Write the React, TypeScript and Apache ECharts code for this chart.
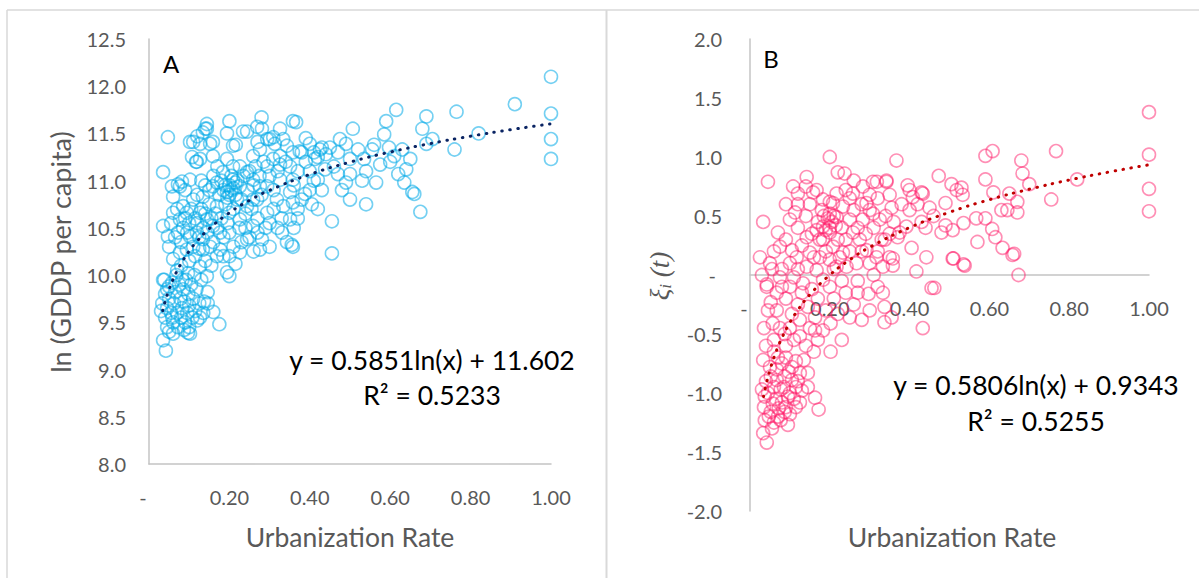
import React, { useEffect, useRef } from "react";
import * as echarts from "echarts";

// ---------- data ----------
const xAxisTitle = "Urbanization Rate";
const yTitleA = "ln (GDDP per capita)";
const panelLabels = ["A", "B"];
const equationA = ["y = 0.5851ln(x) + 11.602", "R² = 0.5233"];
const equationB = ["y = 0.5806ln(x) + 0.9343", "R² = 0.5255"];

const gdpPoints: number[][] = [
  [0.035,9.31],[0.042,9.2],[0.03,9.62],[0.033,9.7],[0.04,9.55],[0.045,9.45],[0.05,9.4],[0.038,9.95],[0.045,9.65],[0.05,9.75],
  [0.055,9.6],[0.06,9.5],[0.062,9.7],[0.065,9.82],[0.07,9.6],[0.072,9.45],[0.075,9.9],[0.078,9.75],[0.08,9.55],[0.082,9.65],
  [0.085,9.85],[0.088,9.72],[0.09,9.5],[0.092,9.95],[0.095,9.6],[0.098,9.8],[0.1,9.68],[0.1,9.45],[0.105,9.9],[0.108,9.55],
  [0.11,9.75],[0.115,9.62],[0.118,9.85],[0.12,9.52],[0.125,9.7],[0.13,9.95],[0.135,9.6],[0.146,9.82],[0.146,9.7],[0.16,9.61],
  [0.175,9.48],[0.058,9.92],[0.068,10.0],[0.083,9.95],[0.097,10.02],[0.113,10.0],[0.06,9.38],[0.097,9.39],[0.087,9.42],[0.102,9.38],
  [0.127,9.55],[0.137,9.72],[0.05,9.88],[0.04,9.8],[0.058,9.55],[0.035,9.95],[0.045,9.85],
  [0.035,10.52],[0.047,10.41],[0.06,10.66],[0.077,10.59],[0.072,10.45],[0.085,10.73],[0.134,10.83],[0.159,10.94],[0.169,10.73],[0.177,10.45],
  [0.169,10.2],[0.194,10.03],[0.2,9.99],[0.134,10.27],[0.094,10.27],[0.127,10.09],[0.144,9.99],[0.06,10.17],[0.077,10.24],[0.035,11.09],
  [0.047,11.46],[0.102,11.01],[0.119,11.2],[0.127,11.23],[0.11,11.41],[0.144,11.55],[0.134,11.51],[0.159,11.41],[0.159,11.26],[0.209,11.37],
  [0.2,11.63],[0.234,11.52],[0.244,11.52],[0.269,11.57],[0.294,11.44],[0.309,11.46],[0.334,11.44],[0.358,11.63],[0.259,11.26],[0.276,11.33],
  [0.226,11.15],[0.244,11.09],[0.259,11.01],[0.294,11.15],[0.309,11.23],[0.326,11.26],[0.343,11.37],[0.358,11.3],[0.351,11.15],[0.326,11.01],
  [0.358,11.01],[0.294,10.94],[0.269,10.8],[0.294,10.66],[0.318,10.8],[0.334,10.73],[0.351,10.88],[0.358,10.77],[0.259,10.52],[0.244,10.38],
  [0.276,10.27],[0.226,10.24],[0.2,10.66],[0.219,10.8],[0.194,10.88],[0.209,11.01],[0.184,11.09],[0.169,10.98],[0.159,10.52],[0.144,10.59],
  [0.127,10.66],[0.11,10.8],[0.094,10.66],[0.077,10.94],[0.102,10.41],[0.119,10.45],[0.134,10.38],[0.152,10.3],[0.177,10.27],[0.2,10.45],
  [0.226,10.59],[0.244,10.73],[0.259,10.8],[0.276,10.94],[0.226,10.94],[0.194,11.23],[0.209,11.15],[0.343,10.35],[0.358,10.3],[0.331,10.45],
  [0.351,10.59],[0.281,10.38],[0.06,10.83],[0.057,10.94],
  [0.05,10.3],[0.055,10.55],[0.065,10.4],[0.07,10.7],[0.08,10.35],[0.085,10.5],[0.09,10.6],[0.095,10.45],[0.1,10.55],[0.105,10.7],
  [0.11,10.3],[0.115,10.6],[0.12,10.55],[0.125,10.4],[0.13,10.7],[0.135,10.5],[0.14,10.65],[0.145,10.45],[0.15,10.75],[0.155,10.6],
  [0.16,10.35],[0.165,10.65],[0.17,10.5],[0.175,10.85],[0.18,10.6],[0.185,10.4],[0.19,10.75],[0.195,10.55],[0.2,10.85],[0.2,10.95],
  [0.205,10.9],[0.21,10.7],[0.215,10.85],[0.22,11.0],[0.225,10.5],[0.23,10.8],[0.235,11.05],[0.24,10.65],[0.245,10.9],[0.25,11.1],
  [0.255,10.7],[0.26,10.95],[0.265,11.15],[0.27,10.6],[0.275,11.05],[0.28,10.85],[0.285,11.2],[0.29,10.5],[0.3,11.05],[0.31,10.9],
  [0.32,11.1],[0.33,10.6],[0.34,11.2],[0.18,11.0],[0.19,10.95],[0.21,10.92],[0.195,10.82],[0.205,11.05],[0.215,10.98],[0.185,10.9],
  [0.17,11.15],[0.16,11.05],[0.15,10.9],[0.14,10.95],[0.13,11.0],[0.12,10.85],[0.09,10.9],[0.1,10.15],[0.115,10.2],[0.14,10.15],
  [0.155,10.1],[0.185,10.2],[0.21,10.3],[0.23,10.35],[0.25,10.4],[0.26,10.25],[0.2,10.2],[0.215,10.12],[0.08,10.1],[0.07,10.05],
  [0.125,10.28],[0.24,10.5],[0.27,10.45],[0.3,10.55],[0.31,10.7],[0.32,10.5],[0.3,10.3],
  [0.38,11.3],[0.39,11.2],[0.4,11.1],[0.41,11.0],[0.42,11.25],[0.43,11.35],[0.44,11.28],[0.4,10.9],[0.38,10.8],[0.42,10.7],
  [0.37,10.6],[0.36,10.5],[0.355,10.32],[0.455,10.23],[0.43,10.9],[0.42,11.01],[0.438,11.12],[0.413,11.23],[0.425,11.33],[0.4,11.39],
  [0.375,11.31],[0.366,11.62],[0.405,10.75],[0.388,10.86],[0.37,10.7],[0.326,11.17],[0.313,11.39],[0.3,11.44],[0.326,11.55],[0.281,11.55],
  [0.27,11.41],[0.39,11.45],[0.41,11.3],[0.37,11.1],[0.36,10.95],
  [0.455,10.57],[0.47,11.07],[0.475,11.44],[0.49,11.39],[0.5,11.23],[0.507,11.55],[0.49,10.98],[0.5,11.07],[0.52,11.33],[0.535,11.23],
  [0.54,10.75],[0.555,11.33],[0.565,10.98],[0.575,11.17],[0.585,11.49],[0.59,11.63],[0.597,11.35],[0.615,11.75],[0.62,11.07],[0.63,11.33],
  [0.635,10.98],[0.64,11.12],[0.65,11.23],[0.655,10.88],[0.66,10.86],[0.675,10.67],[0.68,11.55],[0.69,11.68],[0.69,11.39],[0.705,11.44],
  [0.76,11.33],[0.765,11.73],[0.82,11.5],[0.91,11.81],[1.0,12.1],[1.0,11.71],[1.0,11.44],[1.0,11.23],[0.6,11.2],[0.61,11.26],
  [0.54,11.1],[0.53,11.0],[0.56,11.38],[0.5,10.8],[0.46,11.15],[0.47,11.3],[0.48,10.9],[0.45,11.35],
  [0.102,11.41],[0.12,11.47],[0.127,11.39],[0.14,11.55],[0.144,11.6],[0.107,11.25],[0.117,11.2],[0.152,11.39],[0.194,11.5],[0.216,11.38],
  [0.28,11.67],[0.072,10.96],[0.082,10.99]
];

const xiPoints: number[][] = [
  [0.045,0.79],[0.033,0.45],[0.07,0.36],[0.1,0.47],[0.113,0.53],[0.075,0.24],[0.105,0.21],[0.108,0.75],[0.12,0.69],[0.142,0.83],
  [0.158,0.7],[0.167,0.72],[0.2,1.0],[0.22,0.87],[0.237,0.86],[0.217,0.69],[0.183,0.64],[0.208,0.61],[0.233,0.58],[0.258,0.69],
  [0.283,0.75],[0.308,0.79],[0.318,0.79],[0.342,0.79],[0.292,0.61],[0.308,0.52],[0.325,0.47],[0.283,0.47],[0.25,0.47],[0.217,0.49],
  [0.2,0.52],[0.183,0.41],[0.167,0.38],[0.142,0.32],[0.183,0.3],[0.2,0.36],[0.208,0.24],[0.233,0.19],[0.258,0.36],[0.275,0.3],
  [0.292,0.21],[0.317,0.15],[0.333,0.07],[0.267,0.1],[0.242,0.07],[0.217,0.07],[0.2,0.13],[0.175,0.15],[0.15,0.19],[0.117,0.15],
  [0.1,0.1],[0.142,0.07],[0.167,0.04],[0.075,-0.02],[0.042,-0.1],[0.067,-0.15],[0.1,-0.1],[0.133,-0.07],[0.183,-0.04],
  [1.0,1.38],[1.0,1.02],[1.0,0.73],[1.0,0.54],[0.82,0.81],[0.767,1.05],[0.755,0.64],[0.68,0.97],[0.683,0.86],[0.7,0.77],
  [0.67,0.62],[0.67,0.53],[0.65,0.69],[0.63,0.55],[0.645,0.55],[0.608,1.05],[0.59,1.01],[0.59,0.81],[0.61,0.7],[0.567,0.48],
  [0.59,0.48],[0.607,0.39],[0.615,0.32],[0.633,0.23],[0.658,0.17],[0.662,0.18],[0.673,0.0],[0.57,0.28],[0.535,0.44],[0.535,0.09],
  [0.508,0.38],[0.51,0.14],[0.48,0.36],[0.49,0.42],[0.53,0.74],[0.533,0.68],[0.505,0.77],[0.518,0.72],[0.49,0.61],[0.473,0.84],
  [0.45,0.57],[0.433,0.69],[0.43,0.7],[0.408,0.66],[0.4,0.72],[0.395,0.76],[0.35,0.68],[0.355,0.57],[0.342,0.8],[0.367,0.97],
  [0.392,0.41],[0.375,0.36],[0.37,0.32],[0.405,0.23],[0.43,0.45],[0.442,0.15],[0.417,0.03],[0.358,0.14],[0.358,0.08],[0.35,0.15],
  [0.455,-0.11],[0.333,-0.15],[0.338,0.3],[0.433,-0.45],[0.508,0.14],[0.538,0.08],
  [0.042,-1.42],[0.033,-1.34],[0.037,-1.23],[0.047,-1.2],[0.077,-1.23],[0.095,-1.27],[0.087,-1.16],[0.115,-1.12],[0.172,-1.14],[0.163,-1.04],
  [0.145,-0.95],[0.145,-0.83],[0.135,-0.72],[0.115,-0.73],[0.033,-0.72],[0.03,-0.97],[0.037,-1.03],[0.052,-0.86],[0.067,-0.89],[0.087,-0.86],
  [0.105,-0.89],[0.077,-0.97],[0.095,-1.03],[0.057,-1.09],[0.072,-1.13],[0.052,-1.16],[0.105,-0.78],[0.125,-0.83],[0.115,-0.95],[0.097,-0.82],
  [0.067,-0.8],[0.04,-0.9],[0.045,-1.0],[0.06,-0.95],[0.065,-1.05],[0.08,-1.08],[0.085,-0.95],[0.09,-1.12],[0.1,-1.0],[0.11,-1.05],
  [0.12,-0.9],[0.06,-1.25],[0.07,-1.2],[0.05,-0.78],[0.08,-0.75],[0.1,-1.18],[0.125,-1.08],[0.035,-1.12],[0.055,-1.3],[0.13,-0.98],
  [0.07,-0.7],
  [0.202,-0.65],[0.23,-0.55],[0.183,-0.47],[0.163,-0.47],[0.202,-0.41],[0.163,-0.36],[0.125,-0.38],[0.125,-0.52],[0.087,-0.5],[0.057,-0.41],
  [0.067,-0.3],[0.052,-0.23],[0.105,-0.33],[0.145,-0.27],[0.22,-0.33],[0.25,-0.36],[0.28,-0.38],[0.297,-0.16],[0.337,-0.27],[0.337,-0.4],
  [0.355,-0.36],[0.462,-0.11],[0.042,-0.08],
  [0.06,-0.55],[0.075,-0.45],[0.09,-0.6],[0.1,-0.45],[0.11,-0.55],[0.14,-0.6],[0.15,-0.45],[0.17,-0.55],[0.19,-0.3],[0.21,-0.2],
  [0.17,-0.2],[0.13,-0.15],[0.09,-0.2],[0.08,-0.1],[0.12,-0.25],[0.155,-0.12],[0.2,-0.1],[0.24,-0.15],[0.26,-0.25],[0.23,-0.05],
  [0.27,-0.05],[0.3,-0.3],[0.32,-0.1],[0.09,-0.7],[0.16,-0.65],[0.06,-0.65],[0.04,-0.6],[0.035,-0.45],[0.045,-0.3],
  [0.05,0.1],[0.06,0.2],[0.08,0.05],[0.09,0.3],[0.12,0.4],[0.13,0.25],[0.14,0.5],[0.15,0.6],[0.16,0.15],[0.17,0.45],
  [0.18,0.55],[0.19,0.2],[0.2,0.4],[0.21,0.05],[0.21,0.5],[0.22,0.3],[0.23,0.4],[0.24,0.3],[0.25,0.2],[0.26,0.55],
  [0.27,0.4],[0.28,0.2],[0.29,0.35],[0.3,0.55],[0.31,0.4],[0.32,0.65],[0.33,0.3],[0.34,0.5],[0.36,0.45],[0.38,0.6],
  [0.4,0.55],[0.42,0.6],[0.44,0.4],[0.46,0.5],[0.195,0.48],[0.205,0.45],[0.185,0.5],[0.215,0.42],[0.19,0.38],[0.175,0.3],
  [0.155,0.35],[0.225,0.15],[0.12,0.05],[0.11,-0.02],[0.055,0.05],[0.03,0.0],[0.025,0.15],[0.2,0.62],[0.25,0.65],[0.28,0.6],
  [0.3,0.68],[0.26,0.8],[0.24,0.72],[0.35,0.35],[0.3,0.1],[0.31,0.0],[0.27,-0.15],[0.32,0.2],[0.14,0.75],[0.12,0.6],
  [0.09,0.6]
];

// logarithmic trendline values (as printed equations), sampled at these x
const trendX = [0.034, 0.04, 0.05, 0.06, 0.07, 0.08, 0.1, 0.12, 0.15, 0.2, 0.25, 0.3, 0.4, 0.5, 0.6, 0.7, 0.8, 0.9, 1.0];
const gdpTrend = [9.624, 9.719, 9.849, 9.956, 10.046, 10.124, 10.255, 10.361, 10.492, 10.66, 10.791, 10.898, 11.066, 11.196, 11.303, 11.393, 11.471, 11.54, 11.602];
const xiTrend = [-1.029, -0.935, -0.805, -0.699, -0.61, -0.532, -0.403, -0.297, -0.167, 0.0, 0.129, 0.235, 0.402, 0.532, 0.638, 0.727, 0.805, 0.873, 0.934];

// ---------- styles ----------
const FONT = "Lato";
const TICK = "#595959";
const AXIS = "#c4c4c4";
const BORDER = "#d9d9d9";

export default function App() {
  const ref = useRef<HTMLDivElement>(null);

  useEffect(() => {
    if (!ref.current) return;
    const chart = echarts.init(ref.current, undefined, { renderer: "svg" });

    const xFmt = (v: number) => (v === 0 ? "{z|-}" : v.toFixed(2));
    const yFmt = (v: number) => (v === 0 ? "{z|-}" : v.toFixed(1));

    const xAxisBase = (grid: number, show: boolean) => ({
      type: "value",
      gridIndex: grid,
      min: 0,
      max: 1,
      interval: 0.2,
      axisLine: { show, onZero: false, lineStyle: { color: AXIS, width: 1.5 } },
      axisTick: { show: false },
      splitLine: { show: false },
      axisLabel: {
        show,
        color: TICK,
        fontSize: 20,
        fontFamily: FONT,
        margin: 23,
        formatter: xFmt,
        rich: { z: { color: TICK, fontSize: 20, fontFamily: FONT, padding: [0, 12, 0, 0] } },
      },
    });

    const yAxisBase = (grid: number, min: number, max: number, margin: number, show = true) => ({
      type: "value",
      gridIndex: grid,
      show,
      min,
      max,
      interval: 0.5,
      axisLine: { show, onZero: false, lineStyle: { color: AXIS, width: 1.5 } },
      axisTick: { show: false },
      splitLine: { show: false },
      axisLabel: {
        show,
        color: TICK,
        fontSize: 20,
        fontFamily: FONT,
        margin,
        formatter: yFmt,
        rich: { z: { color: TICK, fontSize: 20, fontFamily: FONT, padding: [0, 6, 0, 0] } },
      },
    });

    const zip = (xs: number[], ys: number[]) => xs.map((x, i) => [x, ys[i]]);

    const txt = (text: string, x: number, y: number, size: number, fill: string, extra: any = {}) => ({
      type: "text",
      x,
      y,
      z: 100,
      silent: true,
      style: {
        text,
        fill,
        fontSize: size,
        fontFamily: FONT,
        align: "center",
        verticalAlign: "middle",
        ...extra,
      },
    });

    chart.setOption({
      animation: false,
      backgroundColor: "#ffffff",
      grid: [
        { left: 149, top: 39, width: 402, height: 425 },
        { left: 750, top: 39, width: 399, height: 472 },
        // upper half of panel B: its bottom edge is the zero line, where the x axis sits
        { left: 750, top: 39, width: 399, height: 236 },
      ],
      xAxis: [xAxisBase(0, true), xAxisBase(1, false), xAxisBase(2, true)],
      yAxis: [
        yAxisBase(0, 8, 12.5, 23),
        yAxisBase(1, -2, 2, 28),
        yAxisBase(2, 0, 2, 0, false),
      ],
      series: [
        {
          type: "scatter",
          xAxisIndex: 0,
          yAxisIndex: 0,
          data: gdpPoints,
          symbol: "circle",
          symbolSize: 13,
          itemStyle: { color: "rgba(0,0,0,0)", borderColor: "rgba(0,168,232,0.68)", borderWidth: 1.6 },
          z: 2,
        },
        {
          type: "line",
          xAxisIndex: 0,
          yAxisIndex: 0,
          data: zip(trendX, gdpTrend),
          smooth: true,
          showSymbol: false,
          lineStyle: { color: "#0a2463", width: 3, type: [0.5, 7.5], cap: "round" },
          z: 5,
        },
        {
          type: "scatter",
          xAxisIndex: 1,
          yAxisIndex: 1,
          data: xiPoints,
          symbol: "circle",
          symbolSize: 13,
          itemStyle: { color: "rgba(0,0,0,0)", borderColor: "rgba(255,20,100,0.6)", borderWidth: 1.6 },
          z: 2,
        },
        {
          type: "line",
          xAxisIndex: 1,
          yAxisIndex: 1,
          data: zip(trendX, xiTrend),
          smooth: true,
          showSymbol: false,
          lineStyle: { color: "#c00000", width: 3, type: [0.5, 7.5], cap: "round" },
          z: 5,
        },
      ],
      graphic: [
        { type: "line", silent: true, shape: { x1: 7, y1: 10, x2: 1199, y2: 10 }, style: { stroke: BORDER, lineWidth: 1.5 } },
        { type: "line", silent: true, shape: { x1: 7, y1: 10, x2: 7, y2: 578 }, style: { stroke: BORDER, lineWidth: 1.5 } },
        { type: "line", silent: true, shape: { x1: 606.5, y1: 10, x2: 606.5, y2: 578 }, style: { stroke: BORDER, lineWidth: 2 } },
        txt(panelLabels[0], 171, 63, 24, "#000000"),
        txt(panelLabels[1], 771, 58, 24, "#000000"),
        txt(equationA[0], 432, 360, 26.5, "#000000"),
        txt(equationA[1], 432, 395, 26.5, "#000000"),
        txt(equationB[0], 1036, 385, 26.5, "#000000"),
        txt(equationB[1], 1036, 421, 26.5, "#000000"),
        txt(xAxisTitle, 350, 537, 26.5, TICK),
        txt(xAxisTitle, 952, 537, 26.5, TICK),
        { ...txt(yTitleA, 60, 252, 27, TICK), rotation: Math.PI / 2 },
        {
          type: "text",
          x: 660,
          y: 276,
          z: 100,
          silent: true,
          rotation: Math.PI / 2,
          style: {
            text: "{a|ξ}{b|i}{c| (t)}",
            fill: TICK,
            align: "center",
            verticalAlign: "middle",
            rich: {
              a: { fontSize: 27, fontFamily: "Liberation Serif", fontStyle: "italic", fill: TICK, color: TICK },
              b: { fontSize: 17, fontFamily: "Liberation Serif", fontStyle: "italic", fill: TICK, color: TICK, verticalAlign: "bottom", padding: [10, 0, 0, 0] },
              c: { fontSize: 27, fontFamily: "Liberation Serif", fontStyle: "italic", fill: TICK, color: TICK },
            },
          },
        },
      ],
    });

    return () => chart.dispose();
  }, []);

  return (
    <div
      ref={ref}
      style={{ position: "absolute", left: 0, top: 0, width: 1199, height: 578, background: "#fff" }}
    />
  );
}
